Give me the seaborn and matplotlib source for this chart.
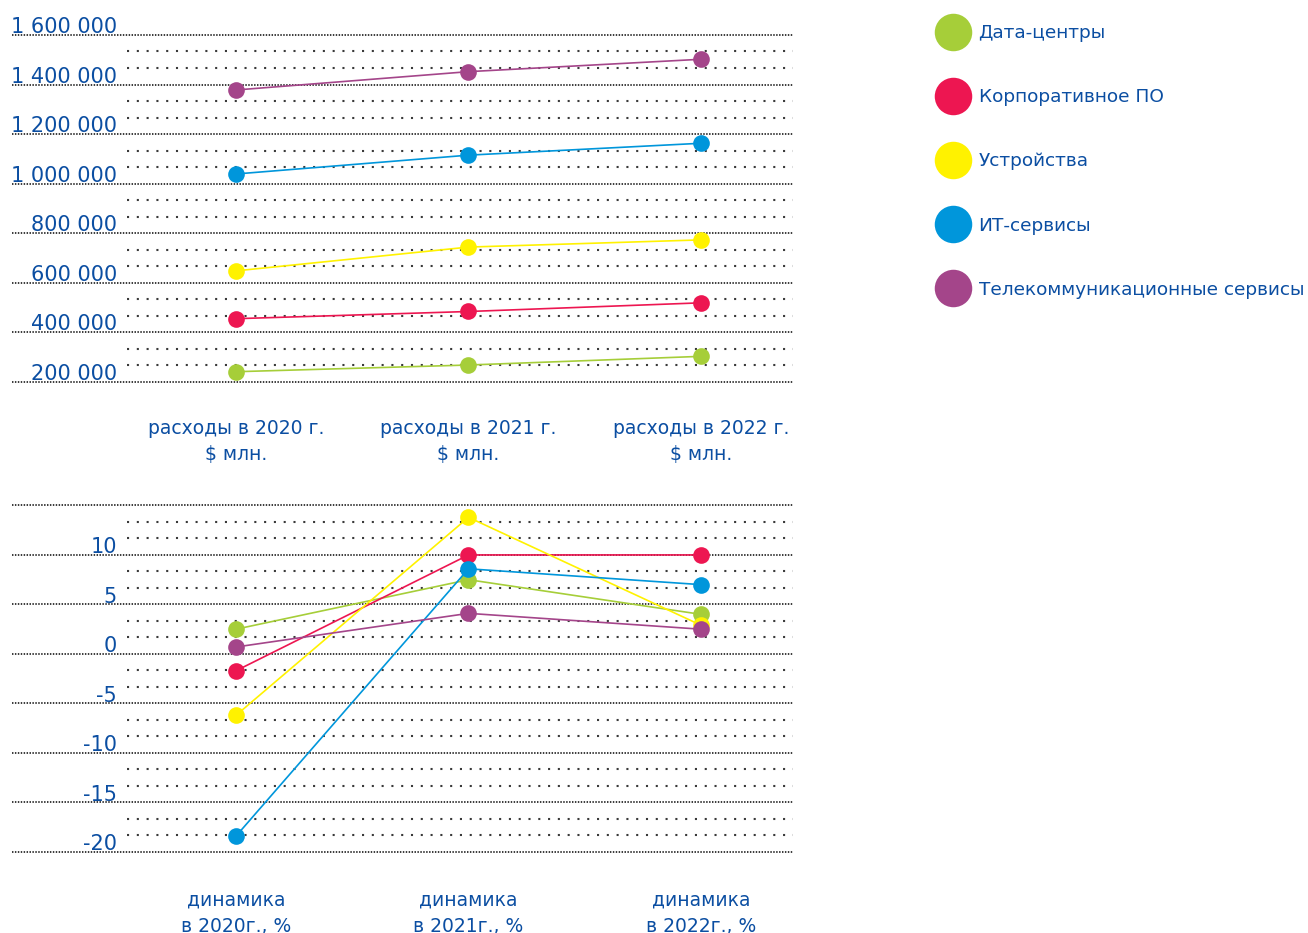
import matplotlib
matplotlib.use("Agg")
import matplotlib.pyplot as plt
from matplotlib.lines import Line2D
import seaborn as sns
import pandas as pd
import numpy as np

# ---------------- data ----------------
series = ["Дата-центры", "Корпоративное ПО", "Устройства", "ИТ-сервисы",
          "Телекоммуникационные сервисы"]
colors = ["#a6ce39", "#ed1651", "#fff200", "#0096db", "#a4458a"]

spend_periods = ["расходы в 2020 г.\n$ млн.", "расходы в 2021 г.\n$ млн.",
                 "расходы в 2022 г.\n$ млн."]
spend_dc = [201000, 228000, 263000]
spend_sw = [415000, 444000, 479000]
spend_dev = [608000, 704000, 733000]
spend_it = [999000, 1075000, 1123000]
spend_tel = [1338000, 1412000, 1462000]

growth_periods = ["динамика\nв 2020г., %", "динамика\nв 2021г., %",
                  "динамика\nв 2022г., %"]
growth_dc = [1.5, 6.5, 3.0]
growth_sw = [-2.7, 9.0, 9.0]
growth_dev = [-7.2, 12.8, 1.9]
growth_it = [-19.4, 7.6, 6.0]
growth_tel = [-0.3, 3.1, 1.5]

spend_ticks = [1600000, 1400000, 1200000, 1000000, 800000, 600000, 400000, 200000]
spend_ticklabels = ["1 600 000", "1 400 000", "1 200 000", "1 000 000",
                    "800 000", "600 000", "400 000", "200 000"]
growth_grid = [15, 10, 5, 0, -5, -10, -15, -20]
growth_ticks = [10, 5, 0, -5, -10, -15, -20]
growth_ticklabels = ["10", "5", "0", "-5", "-10", "-15", "-20"]

# ---------------- frames ----------------
spend_vals = [spend_dc, spend_sw, spend_dev, spend_it, spend_tel]
growth_vals = [growth_dc, growth_sw, growth_dev, growth_it, growth_tel]
df_top = pd.DataFrame([(p, s, v[i]) for s, v in zip(series, spend_vals)
                       for i, p in enumerate(spend_periods)],
                      columns=["period", "series", "value"])
df_bot = pd.DataFrame([(p, s, v[i]) for s, v in zip(series, growth_vals)
                       for i, p in enumerate(growth_periods)],
                      columns=["period", "series", "value"])

sns.set_style("white")
plt.rcParams["font.family"] = ["DejaVu Sans"]
TXT = "#0b4ea2"
DENSE = "#3a3a3a"

W, H = 1308, 933
fig = plt.figure(figsize=(W / 100, H / 100), dpi=100)


def px_axes(l, t, r, b):
    return fig.add_axes([l / W, 1 - b / H, (r - l) / W, (b - t) / H])


ax1 = px_axes(127, 5, 793, 395)
ax2 = px_axes(127, 490, 793, 865)

pal = dict(zip(series, colors))
for ax, df, xpad in ((ax1, df_top, 17.2), (ax2, df_bot, 18)):
    sns.lineplot(data=df, x="period", y="value", hue="series", hue_order=series,
                 palette=pal, marker="o", markersize=12, markeredgewidth=0,
                 linewidth=1.2, errorbar=None, sort=False, legend=False, ax=ax,
                 zorder=3)
    ax.set_xlim(-0.4688, 2.3957)
    ax.set_xlabel("")
    ax.set_ylabel("")
    for sp in ax.spines.values():
        sp.set_visible(False)
    ax.tick_params(axis="both", length=0, labelcolor=TXT)
    ax.tick_params(axis="y", pad=7.2, labelsize=15)
    ax.tick_params(axis="x", pad=xpad, labelsize=13.5)

xmin_dense = (12 - 127) / 666


def draw_grid(ax, majors, off):
    majors = sorted(majors, reverse=True)
    for v in majors:
        ax.axhline(v - off, xmin=xmin_dense, xmax=1, clip_on=False, color=DENSE,
                   lw=1.4, linestyle=(0, (0.75, 0.75)), zorder=0)
    for a, b in zip(majors[:-1], majors[1:]):
        for f in (1 / 3, 2 / 3):
            y = (a - off) + (b - a) * f
            ax.axhline(y, xmin=0, xmax=1, color=DENSE, lw=1.5,
                       linestyle=(0, (1, 3.7)), zorder=0)


# top axis
ax1.set_ylim(107000, 1681000)
ax1.set_yticks(spend_ticks)
ax1.set_yticklabels(spend_ticklabels)
draw_grid(ax1, spend_ticks, 40000)

# bottom axis
ax2.set_ylim(-22.32, 15.56)
ax2.set_yticks(growth_ticks)
ax2.set_yticklabels(growth_ticklabels)
draw_grid(ax2, growth_grid, 1.0)

for ax in (ax1, ax2):
    for t in ax.get_xticklabels():
        t.set_ha("center")
        t.set_multialignment("center")
        t.set_linespacing(1.5)

handles = [Line2D([], [], marker="o", linestyle="none", markersize=27,
                  markerfacecolor=c, markeredgewidth=0) for c in colors]
fig.legend(handles, series, loc="upper left", bbox_to_anchor=(935 / W, 1 - 24 / H),
           frameon=False, borderpad=0, borderaxespad=0, handletextpad=0.36,
           labelspacing=2.5, fontsize=13.3, labelcolor=TXT, handlelength=2.0)

fig.savefig("out.png", dpi=100)
